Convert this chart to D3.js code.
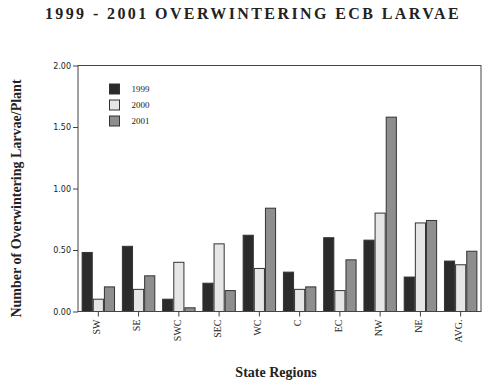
<!DOCTYPE html>
<html>
<head>
<meta charset="utf-8">
<script src="https://cdn.jsdelivr.net/npm/d3@7"></script>
<style>
  body { margin: 0; background: #fff; }
  svg { display: block; }
</style>
</head>
<body>
<div id="chart"></div>
<script>
const regions = ['SW', 'SE', 'SWC', 'SEC', 'WC', 'C', 'EC', 'NW', 'NE', 'AVG.']
const years = ['1999', '2000', '2001']
const values1999 = [0.48, 0.53, 0.10, 0.23, 0.62, 0.32, 0.60, 0.58, 0.28, 0.41]
const values2000 = [0.10, 0.18, 0.40, 0.55, 0.35, 0.18, 0.17, 0.80, 0.72, 0.38]
const values2001 = [0.20, 0.29, 0.03, 0.17, 0.84, 0.20, 0.42, 1.58, 0.74, 0.49]
const yTicks = [0, 0.5, 1, 1.5, 2]

const width = 500
const height = 385
const margin = { top: 65.5, right: 19, bottom: 73.5, left: 78 }
const serif = '"Liberation Serif", "DejaVu Serif", serif'

const series = [values1999, values2000, values2001]
const colors = ['#2b2b2b', '#e6e6e6', '#8e8e8e']

const svg = d3.select('#chart').append('svg').attr('width', width).attr('height', height)

const x = d3
  .scaleBand()
  .domain(regions)
  .range([margin.left, width - margin.right])
  .paddingInner(0.17)
  .paddingOuter(0.09)

const xInner = d3.scaleBand().domain(years).range([0, x.bandwidth()])

const y = d3
  .scaleLinear()
  .domain([0, 2])
  .range([height - margin.bottom, margin.top])

// bars
const groups = svg
  .append('g')
  .selectAll('g')
  .data(regions)
  .enter()
  .append('g')
  .attr('transform', (d) => `translate(${x(d)},0)`)

groups
  .selectAll('rect')
  .data((d, i) => years.map((yr, j) => ({ yr, v: series[j][i], c: colors[j] })))
  .enter()
  .append('rect')
  .attr('x', (d) => xInner(d.yr) + 0.5)
  .attr('y', (d) => y(d.v))
  .attr('width', xInner.bandwidth() - 1)
  .attr('height', (d) => y(0) - y(d.v))
  .attr('fill', (d) => d.c)
  .attr('stroke', '#333')
  .attr('stroke-width', 1)

// frame
svg
  .append('rect')
  .attr('x', margin.left)
  .attr('y', margin.top)
  .attr('width', width - margin.left - margin.right)
  .attr('height', y(0) - margin.top)
  .attr('fill', 'none')
  .attr('stroke', '#444')
  .attr('stroke-width', 1)

// y axis
const yAxis = d3.axisLeft(y).tickValues(yTicks).tickFormat(d3.format('.2f')).tickSize(5).tickPadding(2)
const yG = svg.append('g').attr('transform', `translate(${margin.left},0)`).call(yAxis)
yG.select('.domain').remove()
yG.selectAll('line').attr('stroke', '#444')
yG.selectAll('text').attr('font-family', '"DejaVu Sans", sans-serif').attr('font-size', 8).attr('fill', '#222')

// x axis
const xAxis = d3.axisBottom(x).tickSize(5).tickPadding(3)
const xG = svg.append('g').attr('transform', `translate(0,${y(0)})`).call(xAxis)
xG.select('.domain').remove()
xG.selectAll('line').attr('stroke', '#444')
xG.selectAll('text')
  .attr('font-family', serif)
  .attr('font-size', 10)
  .attr('fill', '#222')
  .attr('transform', 'rotate(-90)')
  .attr('text-anchor', 'end')
  .attr('dy', '0.32em')
  .attr('x', -8)
  .attr('y', -1.5)

// legend
const legend = svg
  .append('g')
  .selectAll('g')
  .data(years)
  .enter()
  .append('g')
  .attr('transform', (d, i) => `translate(109.5,${84 + i * 16})`)

legend
  .append('rect')
  .attr('width', 10)
  .attr('height', 10)
  .attr('fill', (d, i) => colors[i])
  .attr('stroke', '#333')

legend
  .append('text')
  .attr('x', 22)
  .attr('y', 5)
  .attr('dy', '0.35em')
  .attr('font-family', serif)
  .attr('font-size', 9)
  .attr('fill', '#222')
  .text((d) => d)

// title
svg
  .append('text')
  .attr('x', 253)
  .attr('y', 19)
  .attr('text-anchor', 'middle')
  .attr('font-family', serif)
  .attr('font-weight', 'bold')
  .attr('font-size', 16)
  .attr('letter-spacing', 2.4)
  .attr('fill', '#222')
  .text('1999 - 2001 OVERWINTERING ECB LARVAE')

// axis titles
svg
  .append('text')
  .attr('transform', `translate(21,${(margin.top + y(0)) / 2 + 10}) rotate(-90)`)
  .attr('text-anchor', 'middle')
  .attr('font-family', serif)
  .attr('font-weight', 'bold')
  .attr('font-size', 14)
  .attr('fill', '#222')
  .text('Number of Overwintering Larvae/Plant')

svg
  .append('text')
  .attr('x', 276)
  .attr('y', 377)
  .attr('text-anchor', 'middle')
  .attr('font-family', serif)
  .attr('font-weight', 'bold')
  .attr('font-size', 14)
  .attr('fill', '#222')
  .text('State Regions')
</script>
</body>
</html>
